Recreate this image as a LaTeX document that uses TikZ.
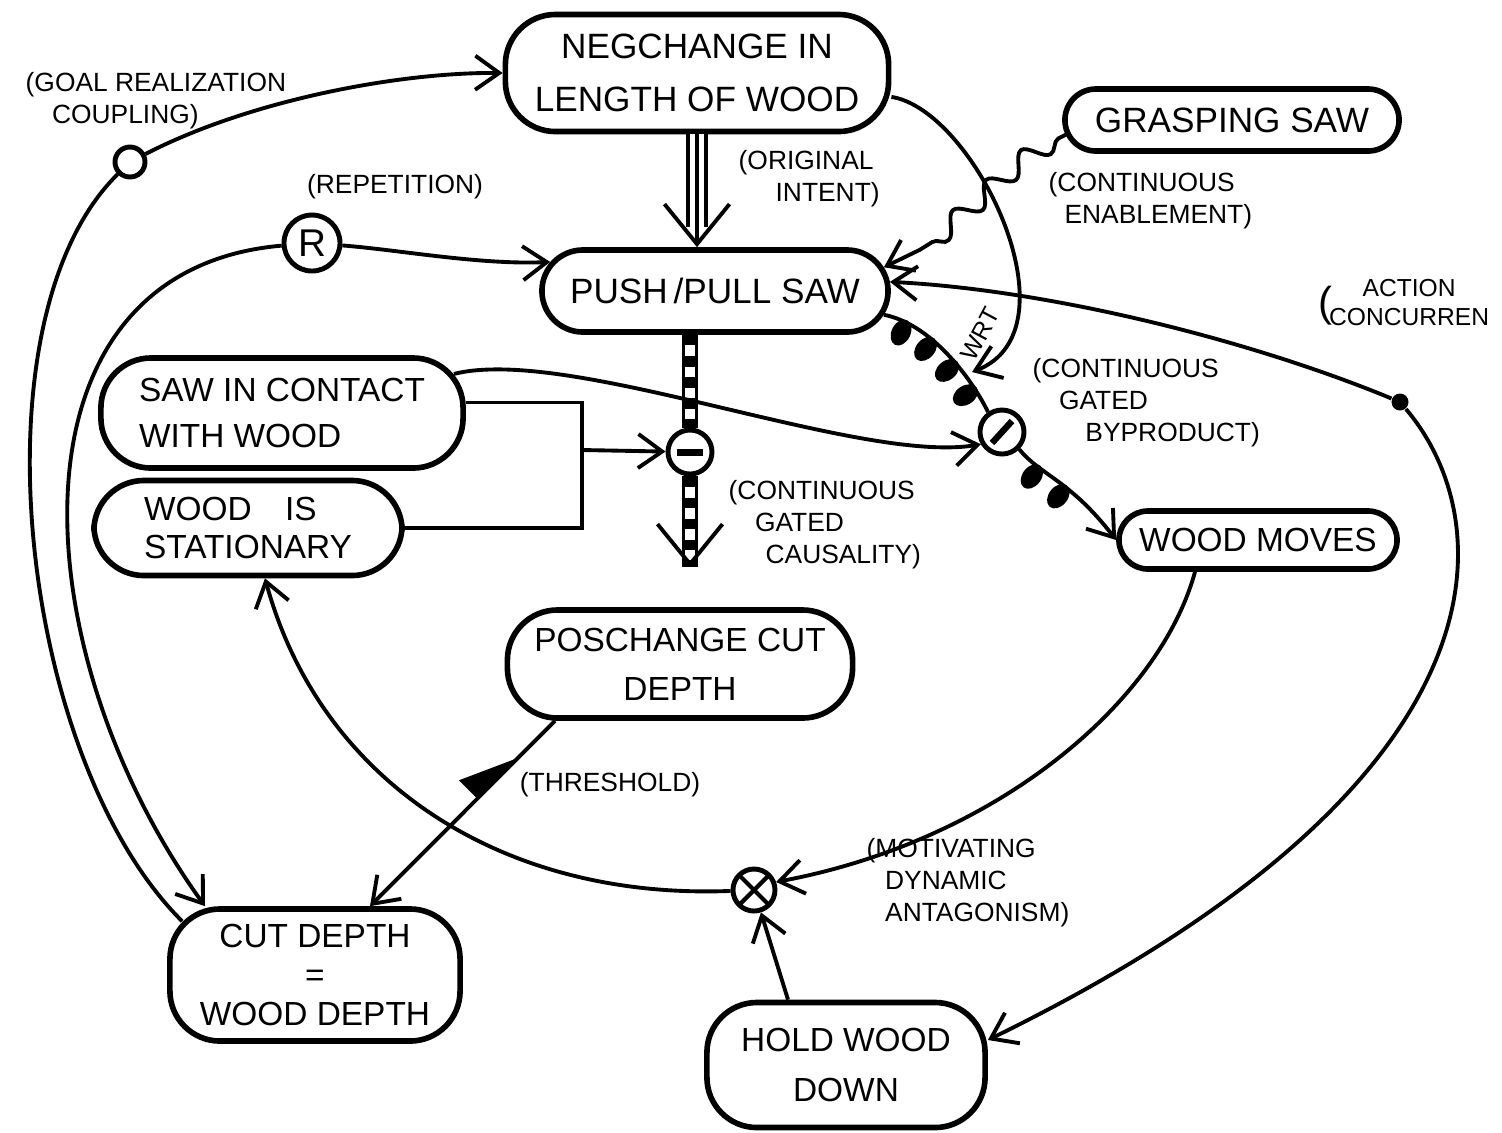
\documentclass[tikz,border=0pt]{standalone}
\usepackage{fontspec}
\setmainfont{Liberation Sans}
\usepackage{graphicx}
\usepackage{tikz}
\usetikzlibrary{arrows.meta, positioning, calc, shapes.misc}
\usetikzlibrary{decorations.pathmorphing, decorations.markings}

\newcommand{\bead}{\fill (0pt,-3.2pt) ellipse [x radius=2.7pt, y radius=3.9pt];}

\tikzset{
  state/.style={draw, line width=1.6pt, rounded corners=5mm, align=center,
    inner sep=2pt, font=\fontsize{9.5}{14}\selectfont},
  pill/.style={draw, line width=1.6pt, rounded rectangle, align=center,
    inner sep=2pt, font=\fontsize{9.5}{14}\selectfont},
  gate/.style={draw, circle, line width=1.4pt, minimum size=4.4mm, inner sep=0pt},
  lbl/.style={align=left, inner sep=0pt, font=\fontsize{7.5}{9}\selectfont},
  link/.style={line width=1.1pt},
  arr/.style={link, -{Straight Barb[length=2.4mm,width=3.4mm]}},
  vtip/.style={line width=1.1pt, -{Straight Barb[length=4mm,width=6.5mm]}},
  hatch/.style={line width=4.6pt,
    postaction={draw=white, line width=2.6pt},
    postaction={draw=black, line width=2.6pt, dash pattern=on 3pt off 3pt}},
  bead/.style={postaction={decorate,
    decoration={markings, mark=at position #1 with {\bead}}}}
}

\begin{document}
\begin{tikzpicture}[x=0.01cm, y=-0.01cm]
\useasboundingbox (0,0) rectangle (1502,1132);

% ------------------------
% States
% ------------------------
\node[state, minimum width=3.83cm, minimum height=1.17cm,
  font=\fontsize{10}{15}\selectfont] (neg) at (697,73)
  {NEGCHANGE IN\\LENGTH OF WOOD};
\node[pill, minimum width=3.6cm, minimum height=0.82cm,
  font=\fontsize{10}{15}\selectfont] (push) at (715,291)
  {PUSH\,/PULL SAW};
\node[pill, minimum width=3.48cm, minimum height=0.62cm,
  font=\fontsize{10}{15}\selectfont] (grasp) at (1232,120)
  {GRASPING SAW};
\node[state, align=left, minimum width=3.62cm, minimum height=1.1cm,
  font=\fontsize{9.5}{13}\selectfont] (contact) at (282,413)
  {SAW IN CONTACT\\WITH WOOD};
\node[state, align=left, minimum width=3.08cm, minimum height=0.95cm,
  font=\fontsize{9.5}{11}\selectfont] (stat) at (248,528)
  {WOOD\quad IS\\STATIONARY};
\node[state, minimum width=3.45cm, minimum height=1.08cm] (pos) at (680,664)
  {POSCHANGE CUT\\DEPTH};
\node[pill, minimum width=2.92cm, minimum height=0.58cm] (moves) at (1258,540)
  {WOOD MOVES};
\node[state, minimum width=2.9cm, minimum height=1.32cm,
  font=\fontsize{9.5}{11}\selectfont] (cut) at (315,975)
  {CUT DEPTH\\=\\WOOD DEPTH};
\node[state, minimum width=2.78cm, minimum height=1.25cm,
  font=\fontsize{9.5}{14}\selectfont] (hold) at (846,1065)
  {HOLD WOOD\\DOWN};

% ------------------------
% Gates and markers
% ------------------------
\node[gate, minimum size=3mm] (goalc) at (130,162) {};
\node[gate, minimum size=5.6mm, font=\fontsize{11}{11}\selectfont] (rep) at (312,243) {R};
\node[gate, path picture={
  \draw[line width=2pt] ([xshift=-1.3mm]path picture bounding box.center)
    -- ([xshift=1.3mm]path picture bounding box.center);}] (gminus) at (690,452) {};
\node[gate, path picture={
  \draw[line width=1.8pt] ([shift={(-1mm,-1.1mm)}]path picture bounding box.center)
    -- ([shift={(1mm,1.1mm)}]path picture bounding box.center);}] (gslash) at (1002,432) {};
\node[gate, minimum size=4.2mm, path picture={
  \draw[line width=1.2pt] (path picture bounding box.north west)
    -- (path picture bounding box.south east);
  \draw[line width=1.2pt] (path picture bounding box.north east)
    -- (path picture bounding box.south west);}] (gx) at (754,890) {};
\node[circle, fill, inner sep=0pt, minimum size=1.7mm] (dot) at (1400,402) {};

% ------------------------
% Connectors
% ------------------------
% goal realization coupling
\draw[link] ([shift={(15,15)}]cut.north west) .. controls (20,760) and (-30,320) .. (goalc);
\draw[arr] (goalc) .. controls (250,100) and (400,72) .. (neg.west);

% repetition
\draw[arr] (rep) .. controls (0,270) and (20,650) .. ([shift={(-110,0)}]cut.north);
\draw[arr] (rep) .. controls (400,250) and (480,265) .. (push.170);

% original intent
\draw[line width=1pt, double, double distance=4pt, shorten >=2mm]
  (neg.south) -- (neg.south |- push.north);
\draw[vtip] (neg.south) -- (neg.south |- push.north);

% gated causality
\coordinate (ctip) at ($(gminus |- pos.north)+(0,-40)$);
\draw[hatch] (push.south -| gminus) -- (gminus.north);
\draw[hatch] (gminus.south) -- (ctip);
\draw[vtip] ([yshift=2pt]ctip) -- (ctip);
\coordinate (join) at (582,450);
\draw[link] ([yshift=3pt]contact.east) -| (join);
\draw[link] (stat.east) -| (join);
\draw[arr] (join) -- (gminus);

% gated byproduct
\draw[arr] ([shift={(-12,0)}]contact.12) .. controls (570,345) and (860,465) .. (gslash.210);
\draw[link, bead/.list={0.16,0.38,0.6,0.82}]
  (push.-8) .. controls (935,325) and (975,385) .. (gslash.125);
\draw[arr, bead/.list={0.2,0.45}]
  (gslash.-45) .. controls (1040,475) and (1070,480) .. (moves.west);

% with respect to
\coordinate (wrtend) at (972,372);
\draw[arr] (neg.-7) .. controls (975,110) and (1080,330) .. (wrtend);
\node[lbl, rotate=62, font=\fontsize{7}{8}\selectfont] (wrt) at (980,334) {WRT};

% continuous enablement
\draw[arr, decorate, decoration={snake, amplitude=1mm, segment length=4.5mm,
  pre length=1mm, post length=4mm}]
  ([shift={(5,14)}]grasp.west) .. controls (1010,160) and (960,240) .. (push.8);

% action concurrency
\draw[arr] (dot) .. controls (1250,340) and (1050,290) .. (push.3);
\draw[arr] (dot) .. controls (1500,520) and (1520,780) .. (hold.10);

% motivating dynamic antagonism
\draw[arr] ([shift={(-63,0)}]moves.south) .. controls (1160,700) and (1000,840) .. (gx.20);
\draw[arr] ([shift={(-58,0)}]hold.north) -- (gx);
\draw[arr] (gx) .. controls (500,900) and (320,780) .. ([shift={(17,0)}]stat.south);

% threshold
\coordinate (thA) at ([shift={(-125,0)}]pos.south);
\coordinate (thB) at ([shift={(55,0)}]cut.north);
\coordinate (thP) at ($(thA)!0.42!(thB)$);
\draw[arr] (thA) -- (thB);
\fill ($(thA)!0.2!(thB)$) -- (thP) -- ($(thP)!2.6mm!90:(thA)$) -- cycle;

% ------------------------
% Labels
% ------------------------
\node[lbl, anchor=north west] (lgoal) at (25,72) {(GOAL REALIZATION\\\hspace{1em}COUPLING)};
\node[lbl] (lrep) at (395,187) {(REPETITION)};
\node[lbl, anchor=north west] (lint) at (738,150) {(ORIGINAL\\\hspace{1.4em}INTENT)};
\node[lbl, anchor=north west] (lena) at (1048,172) {(CONTINUOUS\\\hspace{0.6em}ENABLEMENT)};
\node[lbl, anchor=west, font=\fontsize{7}{8.5}\selectfont] (lconc) at (1318,305)
  {\raisebox{-0.4ex}{\scalebox{1.7}{(}}\kern-1pt\begin{tabular}{@{}c@{}}ACTION\\CONCURREN\end{tabular}};
\node[lbl, anchor=north west] (lbyp) at (1032,358)
  {(CONTINUOUS\\\hspace{1em}GATED\\\hspace{2em}BYPRODUCT)};
\node[lbl, anchor=north west] (lcaus) at (728,480)
  {(CONTINUOUS\\\hspace{1em}GATED\\\hspace{1.4em}CAUSALITY)};
\node[lbl] (lthr) at (610,785) {(THRESHOLD)};
\node[lbl, anchor=north west] (lmot) at (866,838)
  {(MOTIVATING\\\hspace{0.7em}DYNAMIC\\\hspace{0.7em}ANTAGONISM)};

\end{tikzpicture}
\end{document}
